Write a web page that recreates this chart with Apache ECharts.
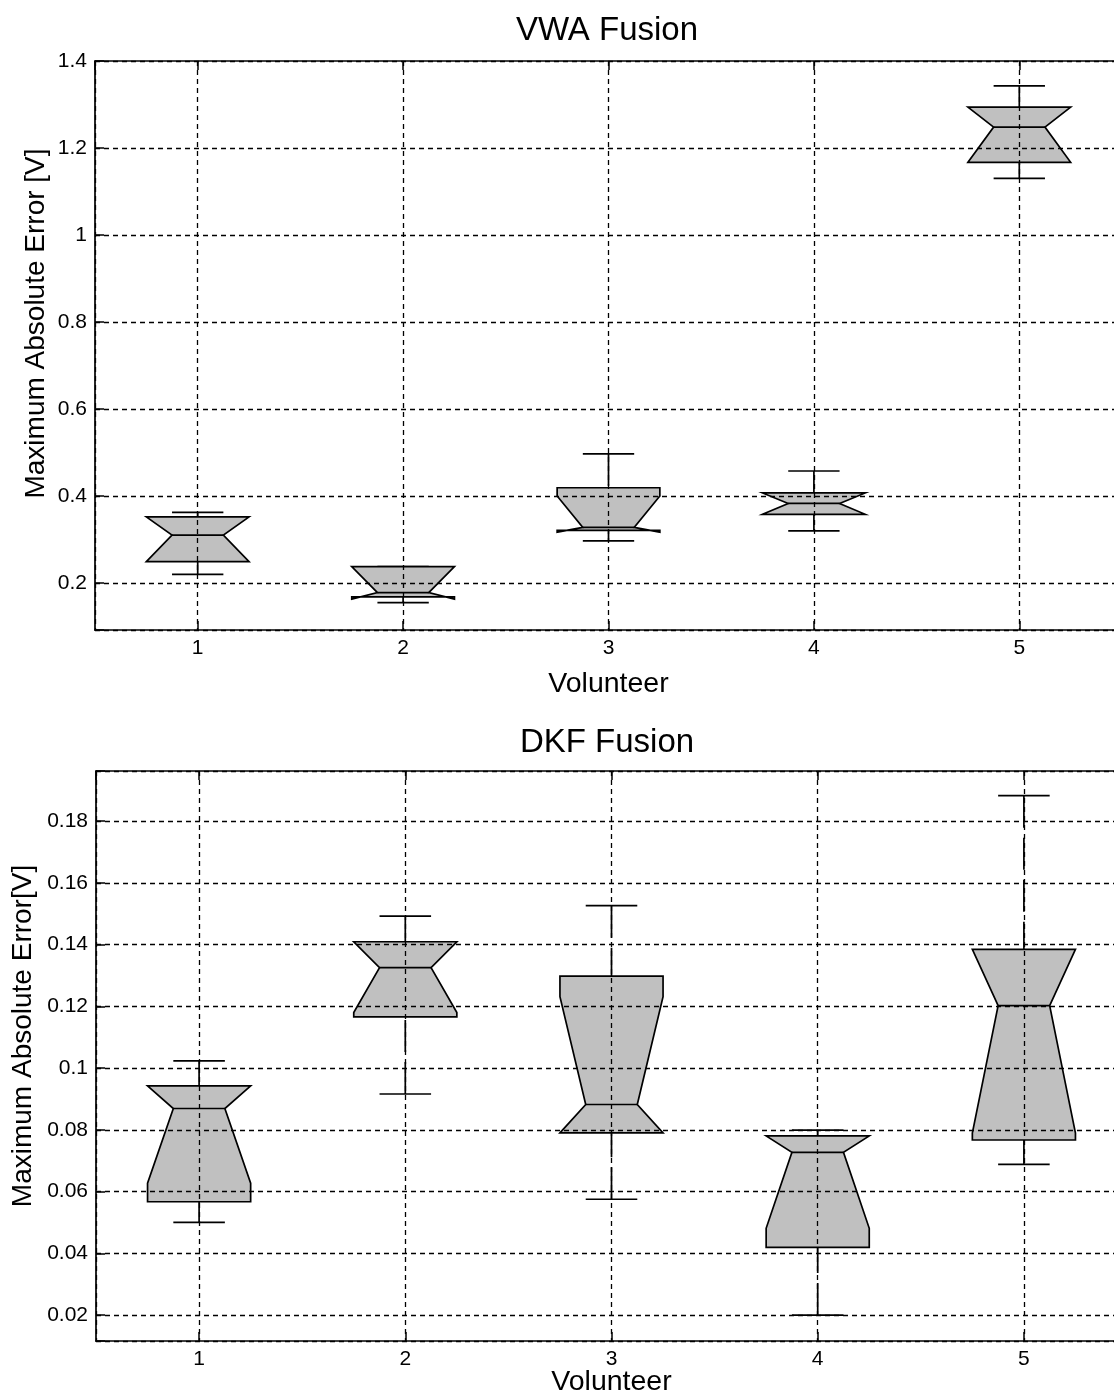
<!DOCTYPE html>
<html>
<head>
<meta charset="utf-8">
<script src="https://cdn.jsdelivr.net/npm/echarts@6/dist/echarts.min.js"></script>
<style>
html,body{margin:0;padding:0;background:#fff;}
#chart{width:1114px;height:1397px;}
</style>
</head>
<body>
<div id="chart"></div>
<script>
// ---- data ----
const categories = [1, 2, 3, 4, 5];

// VWA Fusion
const vwaWhiskerLow  = [0.220, 0.155, 0.297, 0.320, 1.130];
const vwaQ1          = [0.249, 0.168, 0.321, 0.358, 1.167];
const vwaNotchLow    = [0.249, 0.163, 0.317, 0.358, 1.167];
const vwaMedian      = [0.310, 0.178, 0.328, 0.383, 1.248];
const vwaNotchHigh   = [0.352, 0.2375, 0.400, 0.407, 1.294];
const vwaQ3          = [0.352, 0.2375, 0.419, 0.407, 1.294];
const vwaWhiskerHigh = [0.3625, 0.2375, 0.497, 0.4575, 1.343];

// DKF Fusion
const dkfWhiskerLow  = [0.0500, 0.0916, 0.0575, 0.0200, 0.0688];
const dkfQ1          = [0.0567, 0.1166, 0.0790, 0.0419, 0.0767];
const dkfNotchLow    = [0.0627, 0.1180, 0.0790, 0.0481, 0.0789];
const dkfMedian      = [0.0869, 0.1325, 0.0882, 0.0727, 0.1202];
const dkfNotchHigh   = [0.0942, 0.1409, 0.1231, 0.0780, 0.1384];
const dkfQ3          = [0.0942, 0.1409, 0.1298, 0.0780, 0.1384];
const dkfWhiskerHigh = [0.1023, 0.1492, 0.1526, 0.0799, 0.1882];

const vwaYTicks = [0.2, 0.4, 0.6, 0.8, 1.0, 1.2, 1.4];
const dkfYTicks = [0.02, 0.04, 0.06, 0.08, 0.10, 0.12, 0.14, 0.16, 0.18];

// ---- build ----
function rows(wl, q1, nl, md, nh, q3, wh) {
  return categories.map((c, i) => [c, wl[i], q1[i], nl[i], md[i], nh[i], q3[i], wh[i]]);
}
const FONT = '"Liberation Sans", Arial, Helvetica, sans-serif';
const HALF = 0.25, CAP = 0.125;

function renderNotch(params, api) {
  const x = api.value(0);
  const wl = api.value(1), q1 = api.value(2), nl = api.value(3), md = api.value(4),
        nh = api.value(5), q3 = api.value(6), wh = api.value(7);
  const P = (dx, v) => api.coord([x + dx, v]);
  const pts = [
    P(-HALF, q1), P(-HALF, nl), P(-HALF / 2, md), P(-HALF, nh), P(-HALF, q3),
    P(HALF, q3), P(HALF, nh), P(HALF / 2, md), P(HALF, nl), P(HALF, q1)
  ];
  const line = (a, b, dash) => ({
    type: 'line',
    shape: { x1: a[0], y1: a[1], x2: b[0], y2: b[1] },
    style: { stroke: '#000', lineWidth: 1.7, lineDash: dash || null }
  });
  return {
    type: 'group',
    children: [
      line(P(0, wh), P(0, q3), [32, 10]),
      line(P(0, wl), P(0, q1), [32, 10]),
      line(P(-CAP, wh), P(CAP, wh)),
      line(P(-CAP, wl), P(CAP, wl)),
      { type: 'polygon', shape: { points: pts },
        style: { fill: '#c0c0c0', stroke: '#000', lineWidth: 1.7, lineJoin: 'miter' } },
      line(P(-HALF / 2, md), P(HALF / 2, md))
    ]
  };
}

function tickFormatter(ticks) {
  return function (v) {
    for (const t of ticks) if (Math.abs(v - t) < 1e-9) return String(+t.toFixed(2));
    return '';
  };
}

const gridDash = { color: '#000', width: 1.3, type: [5, 4] };

function xAxes(gridIndex, nameGap) {
  return [
    { type: 'value', gridIndex, min: 0.5, max: 5.5, minInterval: 1, maxInterval: 1, z: 5,
      axisLine: { show: true, onZero: false, lineStyle: { color: '#000', width: 1.7 } },
      axisTick: { show: true, inside: true, length: 9, lineStyle: { color: '#000', width: 1.5 } },
      axisLabel: { color: '#000', fontSize: 21, fontFamily: FONT, margin: 8,
        formatter: tickFormatter(categories), showMinLabel: false, showMaxLabel: false },
      splitLine: { show: true, lineStyle: gridDash },
      name: 'Volunteer', nameLocation: 'middle', nameGap, nameMoveOverlap: false,
      nameTextStyle: { color: '#000', fontSize: 28.5, fontFamily: FONT } },
    { type: 'value', gridIndex, position: 'top', min: 0.5, max: 5.5, minInterval: 1, maxInterval: 1, z: 5,
      axisLine: { show: true, onZero: false, lineStyle: { color: '#000', width: 1.7 } },
      axisTick: { show: true, inside: true, length: 9, lineStyle: { color: '#000', width: 1.5 } },
      axisLabel: { show: false }, splitLine: { show: false } }
  ];
}

function yAxis(gridIndex, min, max, step, ticks, gap, shift) {
  return { type: 'value', gridIndex, min, max, minInterval: step, maxInterval: step, z: 5,
    axisLine: { show: true, onZero: false, lineStyle: { color: '#000', width: 1.7 } },
    axisTick: { show: true, inside: true, length: 9, lineStyle: { color: '#000', width: 1.5 } },
    axisLabel: { color: '#000', fontSize: 21, fontFamily: FONT, margin: 8,
      formatter: tickFormatter(ticks) },
    splitLine: { show: true, lineStyle: gridDash },
    name: gridIndex === 0 ? 'Maximum Absolute Error [V]' : 'Maximum Absolute Error[V]',
    nameLocation: 'middle', nameGap: gap, nameMoveOverlap: false,
    nameTextStyle: { color: '#000', fontSize: 28, fontFamily: FONT, padding: [0, 0, 0, shift] } };
}

const chart = echarts.init(document.getElementById('chart'), null, { renderer: 'canvas' });
chart.setOption({
  backgroundColor: '#fff',
  animation: false,
  title: [
    { text: 'VWA Fusion', left: 602, top: 9, textAlign: 'center',
      textStyle: { color: '#000', fontSize: 33, fontWeight: 'normal', fontFamily: FONT } },
    { text: 'DKF Fusion', left: 602, top: 721, textAlign: 'center',
      textStyle: { color: '#000', fontSize: 33, fontWeight: 'normal', fontFamily: FONT } }
  ],
  grid: [
    { left: 95, top: 61, width: 1027, height: 569, outerBoundsMode: 'none', containLabel: false },
    { left: 96, top: 771, width: 1031, height: 570, outerBoundsMode: 'none', containLabel: false }
  ],
  xAxis: [...xAxes(0, 40), ...xAxes(1, 27)],
  yAxis: [
    yAxis(0, 0.092, 1.4, 0.2, vwaYTicks, 45, 44),
    yAxis(1, 0.0116, 0.1962, 0.02, dkfYTicks, 59, 40)
  ],
  series: [
    { type: 'custom', xAxisIndex: 0, yAxisIndex: 0, z: 2, renderItem: renderNotch,
      encode: { x: 0, y: [1, 2, 3, 4, 5, 6, 7] },
      data: rows(vwaWhiskerLow, vwaQ1, vwaNotchLow, vwaMedian, vwaNotchHigh, vwaQ3, vwaWhiskerHigh) },
    { type: 'custom', xAxisIndex: 2, yAxisIndex: 1, z: 2, renderItem: renderNotch,
      encode: { x: 0, y: [1, 2, 3, 4, 5, 6, 7] },
      data: rows(dkfWhiskerLow, dkfQ1, dkfNotchLow, dkfMedian, dkfNotchHigh, dkfQ3, dkfWhiskerHigh) }
  ]
});
</script>
</body>
</html>
